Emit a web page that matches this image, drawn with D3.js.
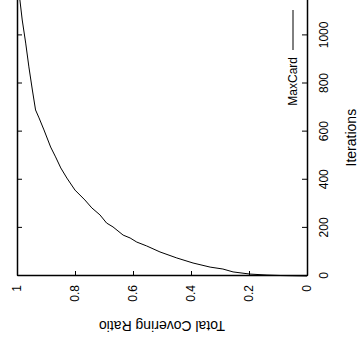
<!DOCTYPE html>
<html>
<head>
<meta charset="utf-8">
<script src="https://cdn.jsdelivr.net/npm/d3@7"></script>
<style>
  body { margin: 0; background: #fff; }
  svg { display: block; }
  text { font-family: "Liberation Sans", Arial, Helvetica, sans-serif; }
</style>
</head>
<body>
<div class="chart"></div>
<script>
// MaxCard run: total covering ratio against iterations
var iterations = [0, 1, 2, 4, 8, 17, 29, 37, 54, 75, 100, 125, 141, 158, 170, 204, 220, 254,
                  283, 316, 357, 407, 449, 495, 536, 607, 657, 690, 773, 869, 968, 1064, 1147, 1165];
var ratio = [0, 0.05, 0.09, 0.138, 0.197, 0.255, 0.29, 0.334, 0.393, 0.449, 0.507, 0.553, 0.587, 0.61,
             0.634, 0.669, 0.691, 0.714, 0.742, 0.766, 0.8, 0.828, 0.849, 0.867, 0.884, 0.907, 0.924,
             0.936, 0.947, 0.959, 0.97, 0.982, 0.99, 0.991];
var iterTicks = [0, 200, 400, 600, 800, 1000];
var ratioTicks = [0, 0.2, 0.4, 0.6, 0.8, 1];
var seriesName = "MaxCard";

var W = 358, H = 347;

var svg = d3.select("div.chart").append("svg")
  .attr("width", W)
  .attr("height", H);

// the whole plot is drawn upright and then turned a quarter left (landscape page)
var g = svg.append("g").attr("transform", "translate(0," + H + ") rotate(-90)");

var x = d3.scaleLinear().domain([0, 1150]).range([71, 347.7]);
var y = d3.scaleLinear().domain([0, 1]).range([307, 17]);

function styleAxis(sel) {
  sel.select(".domain").attr("stroke", "#000").attr("stroke-width", 1.5);
  sel.selectAll(".tick line").attr("stroke", "#000").attr("stroke-width", 1);
  sel.selectAll("text").style("font-size", "12px").attr("fill", "#000");
}

g.append("g")
  .attr("transform", "translate(0," + y(0) + ")")
  .call(d3.axisBottom(x).tickValues(iterTicks).tickSizeInner(-5).tickSizeOuter(0).tickPadding(12)
    .tickFormat(function(d) { return String(d); }))
  .call(styleAxis);

g.append("g")
  .attr("transform", "translate(0," + y(1) + ")")
  .call(d3.axisTop(x).tickValues(iterTicks).tickSizeInner(-5).tickSizeOuter(0).tickFormat(""))
  .call(styleAxis);

g.append("g")
  .attr("transform", "translate(" + x(0) + ",0)")
  .call(d3.axisLeft(y).tickValues(ratioTicks).tickSizeInner(-5).tickSizeOuter(0).tickPadding(9)
    .tickFormat(function(d) { return String(d); }))
  .call(styleAxis);

var line = d3.line()
  .x(function(d, i) { return x(iterations[i]); })
  .y(function(d) { return y(d); });

g.append("path")
  .datum(ratio)
  .attr("fill", "none")
  .attr("stroke", "#000")
  .attr("stroke-width", 1)
  .attr("d", line);

// axis titles
g.append("text")
  .attr("x", (x.range()[0] + x.range()[1]) / 2)
  .attr("y", 356)
  .attr("text-anchor", "middle")
  .style("font-size", "14px")
  .text("Iterations");

g.append("text")
  .attr("transform", "translate(26," + (y(0) + y(1)) / 2 + ") rotate(-90)")
  .attr("text-anchor", "middle")
  .style("font-size", "14px")
  .text("Total Covering Ratio");

// key
g.append("text")
  .attr("x", 290)
  .attr("y", 297)
  .attr("text-anchor", "end")
  .style("font-size", "12px")
  .text(seriesName);

g.append("line")
  .attr("x1", 297).attr("x2", 337)
  .attr("y1", 293).attr("y2", 293)
  .attr("stroke", "#000")
  .attr("stroke-width", 1);
</script>
</body>
</html>
